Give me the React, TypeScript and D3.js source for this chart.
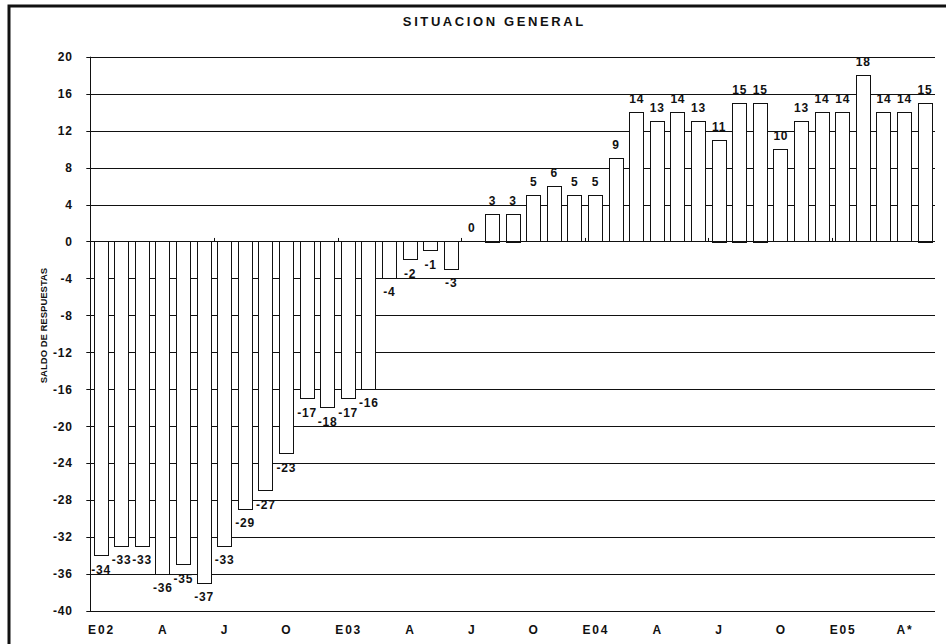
import * as d3 from "d3"

const months = ["E02", "F", "M", "A", "M", "J", "J", "A", "S", "O", "N", "D",
  "E03", "F", "M", "A", "M", "J", "J", "A", "S", "O", "N", "D",
  "E04", "F", "M", "A", "M", "J", "J", "A", "S", "O", "N", "D",
  "E05", "F", "M", "A*", "M"]

const saldo = [-34, -33, -33, -36, -35, -37, -33, -29, -27, -23, -17, -18, -17, -16,
  -4, -2, -1, -3, 0, 3, 3, 5, 6, 5, 5, 9, 14, 13, 14, 13, 11, 15, 15, 10, 13, 14, 14,
  18, 14, 14, 15]

const yTicks = [20, 16, 12, 8, 4, 0, -4, -8, -12, -16, -20, -24, -28, -32, -36, -40]

const title = "SITUACION GENERAL"
const yTitle = "SALDO DE RESPUESTAS"

const W = 946
const H = 644
const font = "'Liberation Sans', Arial, sans-serif"
const ink = "#111"

export default function App() {
  const margin = { left: 90.3, right: 935, top: 56.7, bottom: 611 }

  const x = d3
    .scaleBand<number>()
    .domain(months.map((_, i) => i))
    .range([margin.left, margin.right])
    .paddingInner(0.32)
    .paddingOuter(0.16)

  const y = d3.scaleLinear().domain([-40, 20]).range([margin.bottom, margin.top])
  const step = x.step()
  const y0 = y(0)

  return (
    <svg
      width={W}
      height={H}
      viewBox={`0 0 ${W} ${H}`}
      style={{ position: "absolute", left: 0, top: 0, background: "#fff" }}
      fontFamily={font}
      fontWeight="bold"
    >
      {/* frame */}
      <rect x={9} y={6} width={2000} height={2000} fill="none" stroke={ink} strokeWidth={3} />

      <text x={493} y={25.7} textAnchor="middle" fontSize={13} letterSpacing={2.6} dx={1.3} fill={ink}>
        {title}
      </text>

      {/* grid */}
      {yTicks.map((t) => (
        <line
          key={"g" + t}
          x1={margin.left - 4}
          x2={margin.right}
          y1={Math.round(y(t)) + 0.5}
          y2={Math.round(y(t)) + 0.5}
          stroke={ink}
          strokeWidth={1}
        />
      ))}
      {yTicks.map((t) => (
        <text
          key={"t" + t}
          x={72}
          y={y(t) + 4.3}
          textAnchor="end"
          fontSize={12}
          letterSpacing={0.8}
          dx={0.8}
          fill={ink}
        >
          {t}
        </text>
      ))}
      <line
        x1={Math.round(margin.left) + 0.5}
        x2={Math.round(margin.left) + 0.5}
        y1={margin.top}
        y2={margin.bottom}
        stroke={ink}
      />

      <text
        transform={`translate(47,325.5) rotate(-90)`}
        textAnchor="middle"
        fontSize={9.5}
        fill={ink}
      >
        {yTitle}
      </text>

      {/* bars */}
      {saldo.map((v, i) => {
        const bx = x(i) ?? 0
        const top = Math.min(y(v), y0)
        const h = Math.abs(y(v) - y0)
        if (h === 0) return null
        return (
          <rect
            key={"b" + i}
            x={Math.round(bx) + 0.5}
            y={Math.round(top) + 0.5}
            width={Math.round(x.bandwidth())}
            height={Math.round(h)}
            fill="#fff"
            stroke={ink}
            strokeWidth={1}
          />
        )
      })}

      {/* zero line + category ticks */}
      <line
        x1={margin.left}
        x2={margin.right}
        y1={Math.round(y0) + 0.5}
        y2={Math.round(y0) + 0.5}
        stroke={ink}
      />
      {months.map((_, i) =>
        i > 0 && i % 6 === 0 ? (
          <line
            key={"k" + i}
            x1={Math.round(margin.left + i * step) + 0.5}
            x2={Math.round(margin.left + i * step) + 0.5}
            y1={y0 - 3.5}
            y2={y0}
            stroke={ink}
          />
        ) : null
      )}

      {/* value labels */}
      {saldo.map((v, i) => {
        const cx = (x(i) ?? 0) + x.bandwidth() / 2
        const ly = v >= 0 ? y(v) - 9 : y(v) + 18
        return (
          <text
            key={"v" + i}
            x={cx}
            y={ly}
            textAnchor="middle"
            fontSize={12}
            letterSpacing={0.8}
            dx={0.4}
            fill={ink}
          >
            {v}
          </text>
        )
      })}

      {/* category labels */}
      {months.map((m, i) =>
        i % 3 === 0 ? (
          <text
            key={"c" + i}
            x={(x(i) ?? 0) + x.bandwidth() / 2}
            y={634}
            textAnchor="middle"
            fontSize={12}
            letterSpacing={1.8}
            dx={0.9}
            fill={ink}
          >
            {m}
          </text>
        ) : null
      )}
    </svg>
  )
}
